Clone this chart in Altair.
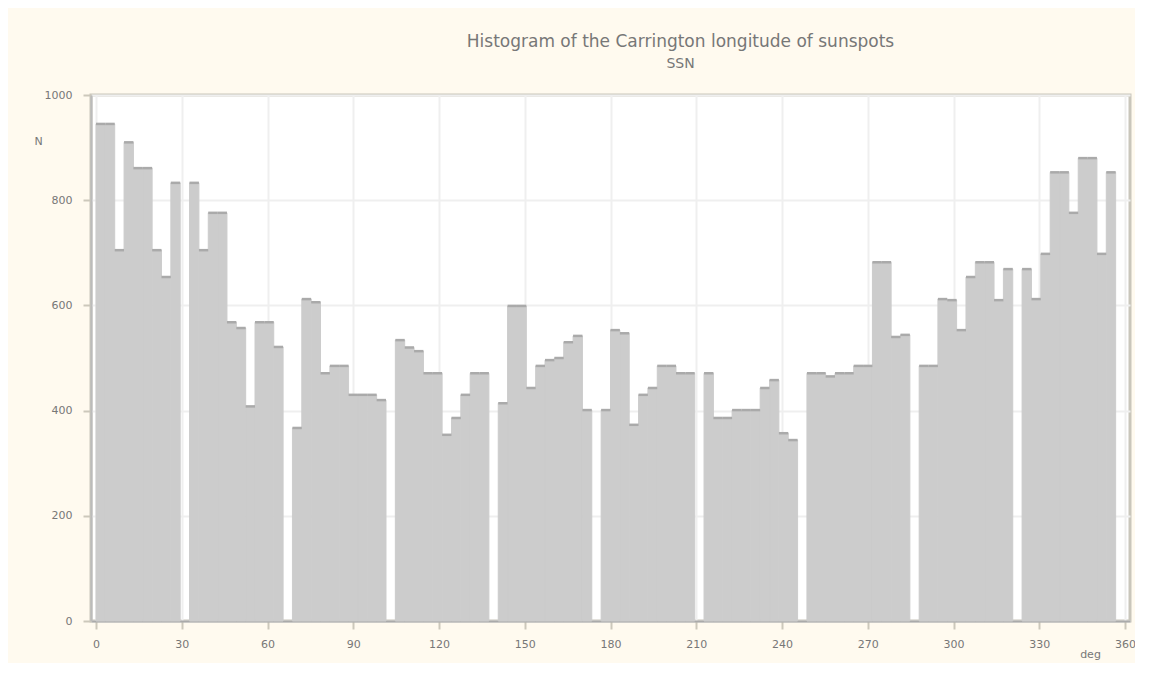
import altair as alt
import pandas as pd

# Counts per longitude bin (110 equal bins over 0-360 deg)
counts = [
    945, 945, 705, 910, 861, 861, 705, 654, 833, 0,
    833, 705, 776, 776, 568, 557, 408, 568, 568, 521,
    0, 367, 612, 606, 471, 485, 485, 430, 430, 430,
    420, 0, 534, 520, 513, 471, 471, 354, 386, 430,
    471, 471, 0, 414, 599, 599, 443, 485, 496, 500,
    530, 542, 401, 0, 401, 553, 547, 373, 430, 443,
    485, 485, 471, 471, 0, 471, 386, 386, 401, 401,
    401, 443, 458, 357, 344, 0, 471, 471, 465, 471,
    471, 485, 485, 682, 682, 540, 544, 0, 485, 485,
    612, 610, 553, 654, 682, 682, 610, 669, 0, 669,
    612, 698, 853, 853, 776, 880, 880, 698, 853, 0,
]
x_ticks = list(range(0, 361, 30))
y_ticks = list(range(0, 1001, 200))
title_text = "Histogram of the Carrington longitude of sunspots"
subtitle_text = "SSN"

n_bins = len(counts)
step = 360 / n_bins
df = pd.DataFrame({
    "start": [i * step for i in range(n_bins)],
    "end": [(i + 1) * step for i in range(n_bins)],
    "count": counts,
})

FONT = "DejaVu Sans"
TXT = "#777777"

x_enc = alt.X(
    "start:Q",
    scale=alt.Scale(domain=[0, 360], nice=False, zero=False),
    axis=alt.Axis(
        values=x_ticks, format="d", title="deg",
        labelFont=FONT, labelFontSize=11, labelColor=TXT,
        tickColor="#ccc8bb", tickSize=8, tickWidth=2, labelPadding=9,
        domainColor="#aaaaaa", domainWidth=2,
        gridColor="#efefef", gridWidth=2,
        titleFont=FONT, titleFontSize=11, titleColor=TXT, titleFontWeight="normal",
        titleX=999, titleY=27, titleAlign="center", titleBaseline="top",
    ),
)
y_enc = alt.Y(
    "count:Q",
    scale=alt.Scale(domain=[0, 1000], nice=False),
    axis=alt.Axis(
        values=y_ticks, format="d", title="N",
        labelFont=FONT, labelFontSize=11, labelColor=TXT,
        tickColor="#ccc8bb", tickSize=8, tickWidth=2, labelPadding=11,
        domainColor="#bbbbbb", domainWidth=2,
        gridColor="#efefef", gridWidth=2,
        titleFont=FONT, titleFontSize=11, titleColor=TXT, titleFontWeight="normal",
        titleAngle=0, titleX=-53, titleY=46, titleAlign="center", titleBaseline="middle",
    ),
)

bars = alt.Chart(df).transform_filter("datum.count > 0").mark_bar(
    color="#cccccc", stroke="#cccccc", strokeWidth=1, orient="vertical"
).encode(
    x=x_enc,
    x2="end:Q",
    y=y_enc,
    y2=alt.datum(0),
)

tops = alt.Chart(df).transform_filter("datum.count > 0").mark_rule(
    color="#aaaaaa", strokeWidth=2.5
).encode(
    x="start:Q",
    x2="end:Q",
    y="count:Q",
)

chart = alt.layer(bars, tops).properties(
    width=1039,
    height=526,
    autosize=alt.AutoSizeParams(type="none"),
    padding={"left": 83, "top": 87, "right": 5, "bottom": 42},
    background="#fffaef",
    title=alt.Title(
        text=title_text, subtitle=subtitle_text,
        font=FONT, fontSize=17, fontWeight="normal", color=TXT,
        subtitleFont=FONT, subtitleFontSize=14, subtitleColor=TXT,
        subtitlePadding=6, anchor="middle", dx=70, offset=17,
    ),
).configure_view(
    fill="white", stroke="#c9c6bb", strokeWidth=3
)

chart.save("out.html", embed_options={"renderer": "svg", "actions": False})
